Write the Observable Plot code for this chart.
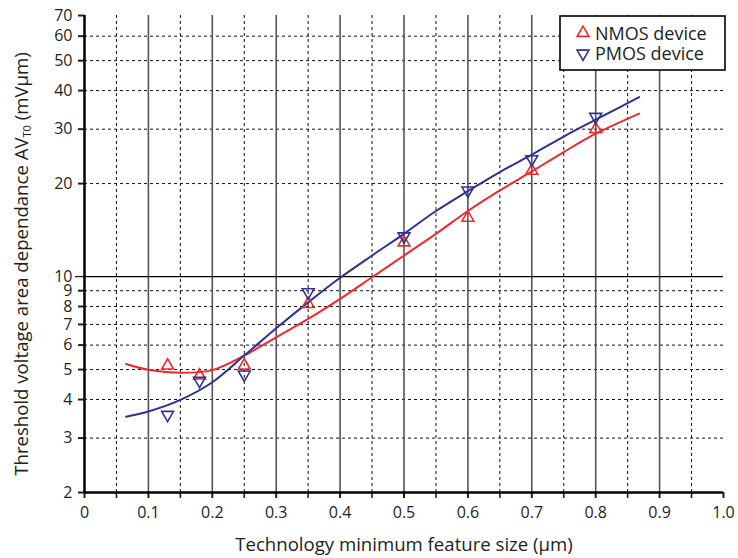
<!DOCTYPE html>
<html><head><meta charset="utf-8">
<script src="https://cdn.jsdelivr.net/npm/d3@7"></script>
<script src="https://cdn.jsdelivr.net/npm/@observablehq/plot@0.6"></script>
<style>body{margin:0;background:#fff}#chart svg{display:block}</style>
</head><body><div id="chart"></div>
<script>
// Measured data points (feature size in µm, AVt0 in mV·µm)
const sizes = [0.13, 0.18, 0.25, 0.35, 0.5, 0.6, 0.7, 0.8];
const nmos = [5.15, 4.78, 5.15, 8.15, 12.9, 15.5, 22.0, 30.0];
const pmos = [3.57, 4.6, 4.82, 8.9, 13.5, 19.0, 24.0, 32.9];
// Fitted curves
const fitX = [0.065, 0.1, 0.15, 0.2, 0.25, 0.3, 0.35, 0.4, 0.45, 0.5, 0.55, 0.6, 0.65, 0.7, 0.75, 0.8, 0.868];
const nmosFit = [5.21, 4.99, 4.88, 4.98, 5.55, 6.36, 7.29, 8.47, 9.95, 11.7, 13.75, 16.3, 19.0, 21.9, 25.3, 29.0, 33.7];
const pmosFit = [3.52, 3.66, 3.99, 4.55, 5.55, 6.8, 8.25, 9.91, 11.7, 13.75, 16.3, 18.9, 21.8, 24.8, 28.4, 32.2, 38.1];
// Ticks
const xTicks = [0, 0.1, 0.2, 0.3, 0.4, 0.5, 0.6, 0.7, 0.8, 0.9, 1.0];
const xTickLabels = ["0", "0.1", "0.2", "0.3", "0.4", "0.5", "0.6", "0.7", "0.8", "0.9", "1.0"];
const xMajorGrid = [0.1, 0.2, 0.3, 0.4, 0.5, 0.6, 0.7, 0.8, 0.9];
const xMinor = [0.05, 0.15, 0.25, 0.35, 0.45, 0.55, 0.65, 0.75, 0.85, 0.95];
const yTicks = [2, 3, 4, 5, 6, 7, 8, 9, 20, 30, 40, 50, 60, 70];
const yDashed = [3, 4, 5, 6, 7, 8, 9, 20, 30, 40, 50, 60];
const yMajor = [10];
const seriesNames = ["NMOS device", "PMOS device"];
const colors = ["#ee2a2e", "#2e3192"];

const pts = sizes.flatMap((s, i) => [
  {x: s, y: nmos[i], s: seriesNames[0]},
  {x: s, y: pmos[i], s: seriesNames[1]}
]);
const fits = fitX.flatMap((x, i) => [
  {x, y: nmosFit[i], s: seriesNames[0]},
  {x, y: pmosFit[i], s: seriesNames[1]}
]);

const font = "'Open Sans', sans-serif";
const W = 738, H = 558;
const plot = Plot.plot({
  width: W, height: H,
  marginLeft: 84, marginRight: 15, marginTop: 15, marginBottom: 66,
  style: {fontFamily: font, fontSize: "16px", color: "#231f20", background: "#fff"},
  x: {domain: [0, 1]},
  y: {type: "log", domain: [2, 70]},
  color: {domain: seriesNames, range: colors},
  marks: [
    Plot.ruleX(xMinor, {stroke: "#111", strokeWidth: 1, strokeDasharray: "3,3"}),
    Plot.ruleY(yDashed, {stroke: "#111", strokeWidth: 1, strokeDasharray: "3,3"}),
    Plot.ruleX(xMajorGrid, {stroke: "#555", strokeWidth: 1.6}),
    Plot.ruleY(yMajor, {stroke: "#000", strokeWidth: 1.3}),
    Plot.axisX(xTicks, {tickSize: 6, tickPadding: 8, tickFormat: (d, i) => xTickLabels[i], strokeWidth: 2, label: null, fontSize: 16}),
    Plot.axisX(xMinor, {tickSize: 6, tickFormat: () => "", strokeWidth: 1.6, label: null}),
    Plot.axisY(yTicks, {tickSize: 6, tickPadding: 6, tickFormat: d => String(d), strokeWidth: 2, label: null, fontSize: 16}),
    Plot.axisY(yMajor, {tickSize: 9, tickPadding: 3, tickFormat: d => String(d), strokeWidth: 1.3, label: null, fontSize: 16}),
    Plot.ruleX([0], {stroke: "#000", strokeWidth: 2.5}),
    Plot.ruleY([2], {stroke: "#000", strokeWidth: 2.5}),
    Plot.line(fits, {x: "x", y: "y", z: "s", stroke: "s", strokeWidth: 2, curve: "catmull-rom"}),
    Plot.dot(pts, {x: "x", y: "y", stroke: "s", symbol: "triangle", r: 4.4, strokeWidth: 1.6, fill: "none",
      rotate: d => d.s === seriesNames[1] ? 180 : 0})
  ]
});
document.getElementById("chart").appendChild(plot);

const svg = d3.select(plot);
// x axis title
svg.append("text").attr("x", 404).attr("y", 551).attr("text-anchor", "middle")
  .attr("font-family", font).attr("font-size", 18.6).attr("fill", "#231f20")
  .text("Technology minimum feature size (μm)");
// y axis title with subscript
const yt = svg.append("text").attr("transform", "translate(28,264) rotate(-90)").attr("text-anchor", "middle")
  .attr("font-family", font).attr("font-size", 18.6).attr("fill", "#231f20");
yt.append("tspan").text("Threshold voltage area dependance AV");
yt.append("tspan").attr("font-size", 11).attr("dy", 3).text("T0");
yt.append("tspan").attr("dy", -3).text(" (mVμm)");
// legend
const lg = svg.append("g");
lg.append("rect").attr("x", 560).attr("y", 16).attr("width", 165).attr("height", 54)
  .attr("fill", "#fff").attr("stroke", "#000").attr("stroke-width", 1.6);
seriesNames.forEach((name, i) => {
  const cy = 33 + i * 20.5;
  lg.append("path").attr("d", d3.symbol(d3.symbolTriangle, Math.PI * 4.4 * 4.4)())
    .attr("transform", `translate(583,${cy}) rotate(${i ? 180 : 0})`)
    .attr("fill", "none").attr("stroke", colors[i]).attr("stroke-width", 1.6);
  lg.append("text").attr("x", 595).attr("y", cy + 6.5).attr("text-anchor", "start")
    .attr("font-family", font).attr("font-size", 18)
    .attr("fill", "#231f20").text(name);
});
</script></body></html>
